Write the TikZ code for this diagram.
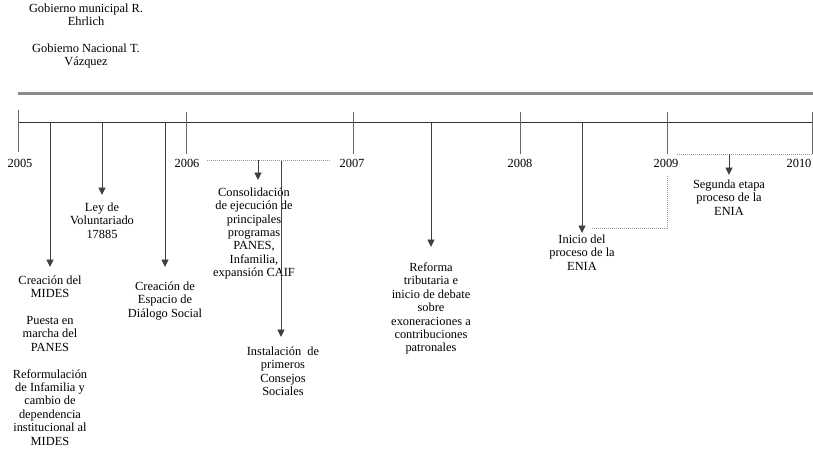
\documentclass[tikz,border=0pt]{standalone}
\usepackage{fontspec}
\setmainfont{Liberation Serif}
\usetikzlibrary{arrows.meta}
\definecolor{axisgray}{HTML}{333333}
\definecolor{bandgray}{HTML}{8A8A8A}
\definecolor{tickgray}{HTML}{666666}
\definecolor{evtgray}{HTML}{404040}
\definecolor{guidegray}{HTML}{9A9A9A}
\begin{document}
\begin{tikzpicture}[x=1pt,y=-1pt,
  lbl/.style={font=\fontsize{12.4}{13.4}\selectfont, align=center, inner sep=0pt, anchor=north},
  yearlbl/.style={font=\fontsize{12.4}{13.4}\selectfont, inner sep=0pt, anchor=center},
  evt/.style={draw=evtgray, line width=0.9pt, -{Triangle[width=7pt,length=7.5pt]}},
  yeartick/.style={draw=tickgray, line width=0.9pt},
  guide/.style={draw=guidegray, line width=0.6pt, dash pattern=on 1pt off 1pt}
]
\useasboundingbox (0,0) rectangle (813,448);

% header texts
\node[lbl] (gobmun) at (86,3.5) {Gobierno municipal R.\\Ehrlich};
\node[lbl] (gobnac) at (86,43.5) {Gobierno Nacional T.\\Vázquez};

% band and axis
\coordinate (bandL) at (18,93.5);
\coordinate (bandR) at (813,93.5);
\draw[draw=bandgray, line width=2.5pt] (bandL) -- (bandR);
\coordinate (axisL) at (18,122.5);
\coordinate (axisR) at (813,122.5);
\draw[draw=axisgray, line width=1.8pt] (axisL) -- (axisR);

% year ticks
\foreach \nm/\xx/\ya/\yb in {y5/18/110/152, y6/186/112/154, y7/353/112/154, y8/520/112/154, y9/667/112/154, y10/812/112/154}{
  \coordinate (\nm a) at (\xx,\ya);
  \coordinate (\nm b) at (\xx,\yb);
  \draw[yeartick] (\nm a) -- (\nm b);
}
\node[yearlbl] (l2005) at (20,163) {2005};
\node[yearlbl] (l2006) at (187,163) {2006};
\node[yearlbl] (l2007) at (352,163) {2007};
\node[yearlbl] (l2008) at (520,163) {2008};
\node[yearlbl] (l2009) at (666,163) {2009};
\node[yearlbl] (l2010) at (799,163) {2010};

% event: MIDES
\coordinate (e1) at (50,122.5);
\coordinate (e1t) at (50,267);
\draw[evt] (e1) -- (e1t);
\node[lbl] (mides) at (50,275.5) {Creación del\\MIDES\\[13.4pt]Puesta en\\marcha del\\PANES\\[13.4pt]Reformulación\\de Infamilia y\\cambio de\\dependencia\\institucional al\\MIDES};

% event: Ley de Voluntariado
\coordinate (e2) at (102,122.5);
\coordinate (e2t) at (102,195);
\draw[evt] (e2) -- (e2t);
\node[lbl] (ley) at (102,202.5) {Ley de\\Voluntariado\\17885};

% event: Espacio de Dialogo Social
\coordinate (e3) at (165,122.5);
\coordinate (e3t) at (165,267);
\draw[evt] (e3) -- (e3t);
\node[lbl] (esp) at (165,281.5) {Creación de\\Espacio de\\Diálogo Social};

% 2006 period
\coordinate (g1a) at (207,160);
\coordinate (g1b) at (330,160);
\draw[guide] (g1a) -- (g1b);
\coordinate (e4) at (258,160);
\coordinate (e4t) at (258,180);
\draw[evt] (e4) -- (e4t);
\node[lbl] (cons) at (254,187.5) {Consolidación\\de ejecución de\\principales\\programas\\PANES,\\Infamilia,\\expansión CAIF};
\coordinate (e5) at (281,161);
\coordinate (e5t) at (281,337);
\draw[evt] (e5) -- (e5t);
\node[lbl] (inst) at (283,346.5) {Instalación\ \ de\\primeros\\Consejos\\Sociales};

% Reforma tributaria
\coordinate (e6) at (431,122.5);
\coordinate (e6t) at (431,247);
\draw[evt] (e6) -- (e6t);
\node[lbl] (ref) at (431,262.5) {Reforma\\tributaria e\\inicio de debate\\sobre\\exoneraciones a\\contribuciones\\patronales};

% ENIA start
\coordinate (e7) at (582,122.5);
\coordinate (e7t) at (582,233);
\draw[evt] (e7) -- (e7t);
\node[lbl] (ini) at (582,234.5) {Inicio del\\proceso de la\\ENIA};
\coordinate (g2a) at (592,228);
\coordinate (g2b) at (667,228);
\coordinate (g2c) at (667,176);
\draw[guide] (g2a) -- (g2b) -- (g2c);

% ENIA second stage
\coordinate (g3a) at (677,154);
\coordinate (g3b) at (812,154);
\draw[guide] (g3a) -- (g3b);
\coordinate (e8) at (729,154);
\coordinate (e8t) at (729,175);
\draw[evt] (e8) -- (e8t);
\node[lbl] (seg) at (729,179.5) {Segunda etapa\\proceso de la\\ENIA};
\end{tikzpicture}
\end{document}
